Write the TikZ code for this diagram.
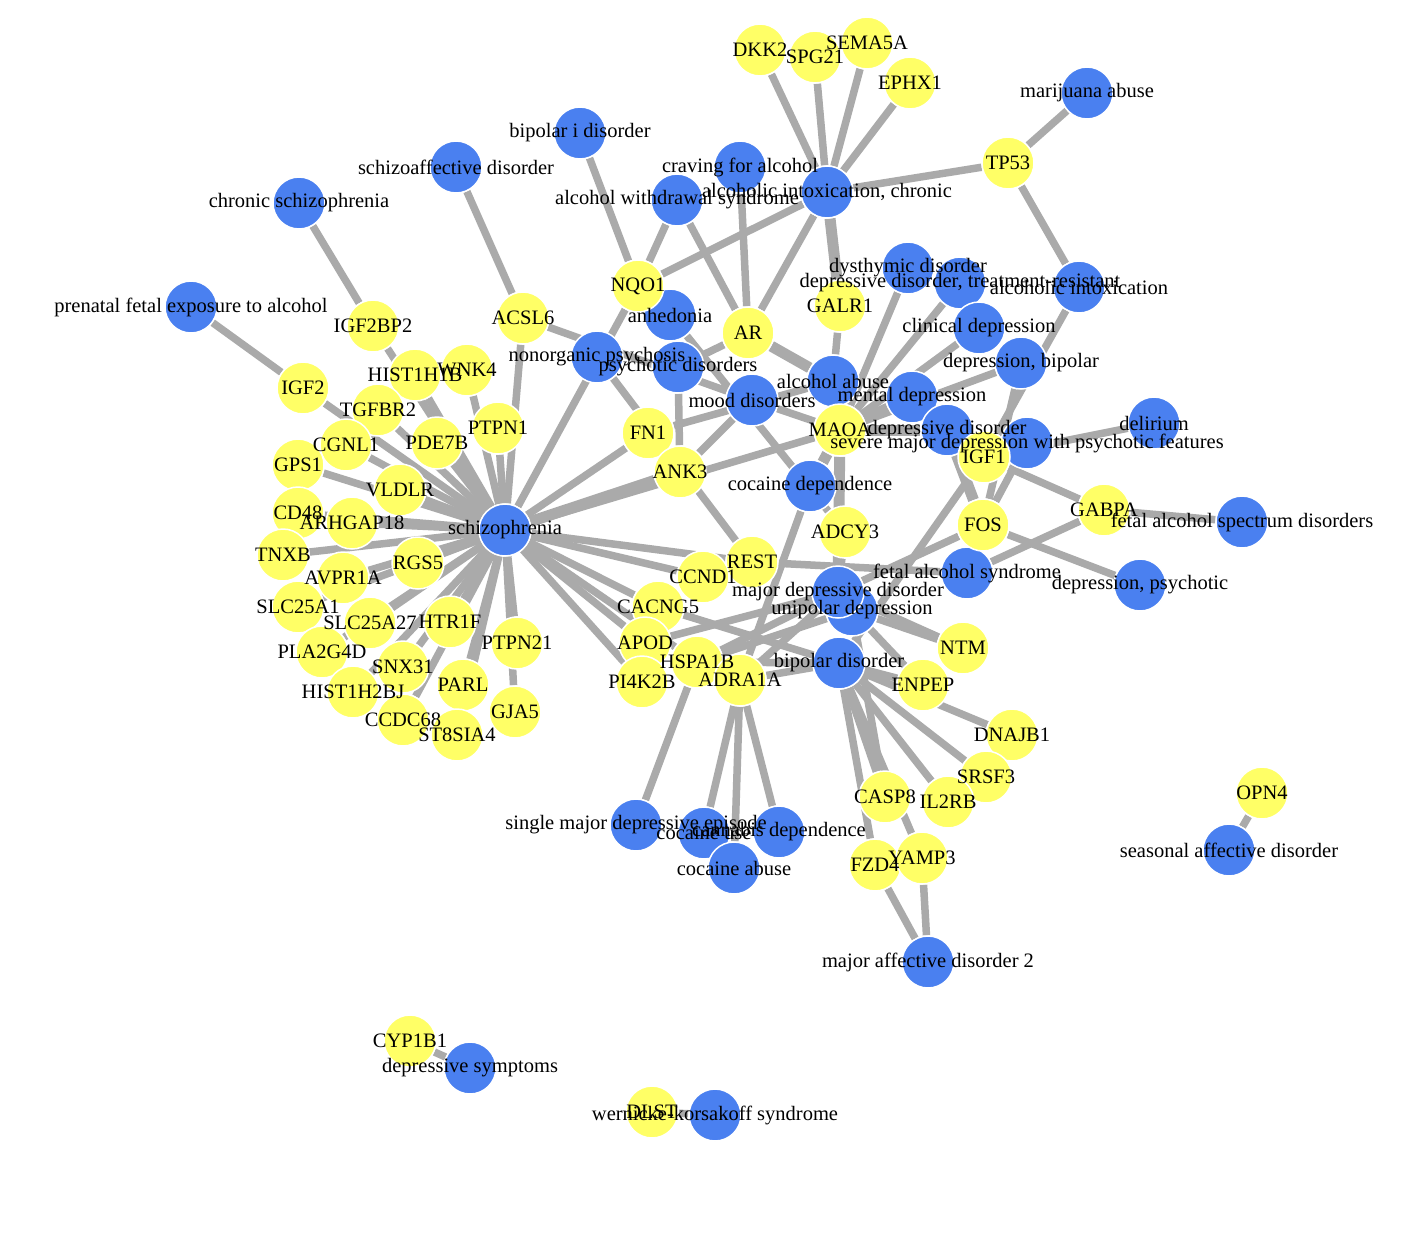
\documentclass[tikz,border=0pt]{standalone}
\usepackage{fontspec}
\setmainfont{Liberation Serif}
\pgfdeclarelayer{bgpaper}
\pgfdeclarelayer{edges}
\pgfsetlayers{bgpaper,edges,main}
\definecolor{dblue}{RGB}{74,128,240}
\definecolor{gyel}{RGB}{255,255,102}
\definecolor{egray}{RGB}{170,170,170}
\tikzset{
 dis/.style={circle, fill=dblue, draw=white, line width=1.5pt, minimum size=52pt, inner sep=0pt},
 gen/.style={dis, fill=gyel},
 lab/.style={font=\fontsize{20.5}{24}\selectfont, inner sep=0pt, text=black},
 edge/.style={draw=egray, line width=7.5pt},
 thk/.style={draw=egray, line width=11pt},
}
\newcommand\BN[3]{\node[dis] (#1) at (#2,#3) {};}
\newcommand\YN[3]{\node[gen] (#1) at (#2,#3) {};}
\newcommand\LB[2]{\node[lab] (t#1) at (#1) {#2};}
\begin{document}
\begin{tikzpicture}[x=1pt,y=-1pt]
\begin{pgfonlayer}{bgpaper}
\path[fill=white,use as bounding box] (0,0) rectangle (1416,1232);
\end{pgfonlayer}
% diseases
\BN{schiz}{505}{530}
\BN{chrsch}{299}{203}
\BN{prenat}{191}{307}
\BN{schaff}{456}{167}
\BN{bipi}{580}{133}
\BN{crav}{740}{167}
\BN{aws}{677}{200}
\BN{aic}{827}{192}
\BN{mari}{1087}{93}
\BN{anhed}{670}{315}
\BN{nonorg}{597}{357}
\BN{psyd}{678}{367}
\BN{mood}{752}{400}
\BN{alcab}{833}{381}
\BN{dysth}{908}{268}
\BN{ddtr}{960}{283}
\BN{alcint}{1079}{287}
\BN{clin}{979}{328}
\BN{depbip}{1021}{363}
\BN{mentd}{912}{397}
\BN{depd}{947}{430}
\BN{smd}{1027}{443}
\BN{delir}{1154}{423}
\BN{cocdep}{810}{486}
\BN{fas}{967}{573}
\BN{fasd}{1242}{522}
\BN{deppsy}{1140}{585}
\BN{unip}{852}{610}
\BN{mdd}{838}{592}
\BN{bip}{839}{663}
\BN{smde}{636}{825}
\BN{cann}{779}{832}
\BN{cocuse}{704}{833}
\BN{cocab}{734}{868}
\BN{mad}{928}{962}
\BN{sad}{1229}{850}
\BN{depsym}{470}{1068}
\BN{wks}{715}{1115}
% genes
\YN{DKK}{760}{50}
\YN{SPG}{815}{57}
\YN{SEMA}{867}{43}
\YN{EPHX}{910}{83}
\YN{TP}{1008}{163}
\YN{NQO}{638}{286}
\YN{AR}{748}{333}
\YN{GALR}{840}{306}
\YN{ACSL}{523}{318}
\YN{IGFBP}{373}{326}
\YN{HISTa}{415}{375}
\YN{WNK}{467}{370}
\YN{IGFtwo}{303}{388}
\YN{TGFBR}{378}{410}
\YN{PTPNa}{498}{428}
\YN{PDE}{437}{443}
\YN{CGNL}{346}{445}
\YN{GPS}{298}{465}
\YN{VLDLR}{400}{490}
\YN{CD}{298}{513}
\YN{ARHGAP}{352}{523}
\YN{TNXB}{283}{555}
\YN{RGS}{418}{563}
\YN{AVPR}{343}{578}
\YN{SLCa}{298}{607}
\YN{SLCb}{370}{623}
\YN{HTR}{450}{622}
\YN{PLA}{322}{652}
\YN{SNX}{403}{667}
\YN{PTPNb}{517}{643}
\YN{PARL}{463}{685}
\YN{HISTb}{353}{692}
\YN{CCDC}{403}{720}
\YN{GJA}{515}{712}
\YN{STS}{457}{735}
\YN{FN}{648}{433}
\YN{ANK}{680}{472}
\YN{MAOA}{840}{430}
\YN{IGFone}{984}{457}
\YN{FOS}{983}{525}
\YN{GABPA}{1104}{510}
\YN{ADCY}{845}{532}
\YN{REST}{752}{562}
\YN{CCND}{703}{577}
\YN{CACNG}{658}{607}
\YN{APOD}{645}{643}
\YN{PIK}{642}{682}
\YN{HSPA}{697}{662}
\YN{ADRA}{740}{680}
\YN{NTM}{963}{648}
\YN{ENPEP}{923}{685}
\YN{DNAJ}{1012}{735}
\YN{SRSF}{986}{777}
\YN{ILRB}{948}{802}
\YN{CASP}{885}{797}
\YN{FZD}{875}{865}
\YN{YAMP}{922}{858}
\YN{OPN}{1262}{793}
\YN{CYP}{410}{1041}
\YN{DLST}{652}{1112}
% edges
\begin{pgfonlayer}{edges}
\foreach \g in {DKK,SPG,SEMA,EPHX,TP,NQO,AR} \draw[edge] (aic) -- (\g);
\draw[thk] (aic) -- (GALR);
\draw[edge] (TP) -- (mari);
\draw[edge] (TP) -- (alcint);
\draw[edge] (bipi) -- (NQO);
\draw[edge] (aws) -- (NQO);
\draw[edge] (aws) -- (AR);
\draw[edge] (crav) -- (AR);
\draw[thk] (AR) -- (alcab);
\draw[edge] (AR) -- (psyd);
\draw[edge] (GALR) -- (alcab);
\draw[edge] (NQO) -- (schiz);
\draw[edge] (schaff) -- (ACSL);
\draw[edge] (ACSL) -- (schiz);
\draw[edge] (ACSL) -- (mood);
\draw[edge] (chrsch) -- (IGFBP);
\draw[edge] (IGFBP) -- (schiz);
\draw[edge] (prenat) -- (IGFtwo);
\foreach \g in {IGFtwo,HISTa,WNK,TGFBR,PTPNa,PDE,CGNL,GPS,VLDLR,CD,ARHGAP,TNXB,RGS,AVPR,SLCa,SLCb,HTR,PLA,SNX,PTPNb,PARL,HISTb,CCDC,GJA,STS,FN,MAOA,REST,CCND,CACNG,APOD,PIK,HSPA}
  \draw[edge] (schiz) -- (\g);
\draw[thk] (schiz) -- (ANK);
\draw[edge] (nonorg) -- (REST);
\draw[edge] (FN) -- (alcab);
\draw[edge] (ANK) -- (psyd);
\draw[edge] (ANK) -- (mood);
\draw[edge] (anhed) -- (ADCY);
\draw[edge] (MAOA) -- (mood);
\draw[edge] (MAOA) -- (alcab);
\draw[thk] (MAOA) -- (mentd);
\draw[thk] (MAOA) -- (depd);
\foreach \d in {dysth,ddtr,clin,depbip} \draw[edge] (MAOA) -- (\d);
\draw[thk] (MAOA) -- (cocdep);
\draw[thk] (MAOA) -- (mdd);
\draw[edge] (ADCY) -- (mdd);
\draw[edge] (IGFone) -- (alcint);
\draw[edge] (IGFone) -- (delir);
\draw[edge] (IGFone) -- (GABPA);
\draw[edge] (IGFone) -- (bip);
\draw[edge] (depbip) -- (FOS);
\draw[thk] (depd) -- (FOS);
\draw[edge] (smd) -- (FOS);
\draw[edge] (FOS) -- (deppsy);
\draw[edge] (FOS) -- (mdd);
\draw[edge] (GABPA) -- (fasd);
\draw[edge] (GABPA) -- (fas);
\draw[edge] (REST) -- (fas);
\draw[edge] (cocdep) -- (ADRA);
\draw[edge] (HSPA) -- (mdd);
\draw[edge] (HSPA) -- (unip);
\draw[edge] (HSPA) -- (bip);
\draw[edge] (HSPA) -- (smde);
\draw[edge] (APOD) -- (mdd);
\draw[edge] (CACNG) -- (bip);
\draw[edge] (ADRA) -- (mdd);
\draw[edge] (ADRA) -- (bip);
\draw[edge] (ADRA) -- (cocuse);
\draw[edge] (ADRA) -- (cocab);
\draw[edge] (ADRA) -- (cann);
\draw[edge] (mdd) -- (NTM);
\draw[edge] (unip) -- (NTM);
\draw[edge] (unip) -- (ENPEP);
\draw[edge] (bip) -- (ENPEP);
\foreach \g in {DNAJ,SRSF,ILRB,CASP,FZD,YAMP} \draw[edge] (bip) -- (\g);
\draw[edge] (unip) -- (CASP);
\draw[edge] (FZD) -- (mad);
\draw[edge] (YAMP) -- (mad);
\draw[edge] (OPN) -- (sad);
\draw[edge] (CYP) -- (depsym);
\draw[edge] (DLST) -- (wks);
\end{pgfonlayer}
% labels
\LB{schiz}{schizophrenia}
\LB{chrsch}{chronic schizophrenia}
\LB{prenat}{prenatal fetal exposure to alcohol}
\LB{schaff}{schizoaffective disorder}
\LB{bipi}{bipolar i disorder}
\LB{crav}{craving for alcohol}
\LB{aws}{alcohol withdrawal syndrome}
\LB{aic}{alcoholic intoxication, chronic}
\LB{mari}{marijuana abuse}
\LB{anhed}{anhedonia}
\LB{nonorg}{nonorganic psychosis}
\LB{psyd}{psychotic disorders}
\LB{mood}{mood disorders}
\LB{alcab}{alcohol abuse}
\LB{dysth}{dysthymic disorder}
\LB{ddtr}{depressive disorder, treatment-resistant}
\LB{alcint}{alcoholic intoxication}
\LB{clin}{clinical depression}
\LB{depbip}{depression, bipolar}
\LB{mentd}{mental depression}
\LB{depd}{depressive disorder}
\LB{smd}{severe major depression with psychotic features}
\LB{delir}{delirium}
\LB{cocdep}{cocaine dependence}
\LB{fas}{fetal alcohol syndrome}
\LB{fasd}{fetal alcohol spectrum disorders}
\LB{deppsy}{depression, psychotic}
\LB{mdd}{major depressive disorder}
\LB{unip}{unipolar depression}
\LB{bip}{bipolar disorder}
\LB{smde}{single major depressive episode}
\LB{cann}{cannabis dependence}
\LB{cocuse}{cocaine use}
\LB{cocab}{cocaine abuse}
\LB{mad}{major affective disorder 2}
\LB{sad}{seasonal affective disorder}
\LB{depsym}{depressive symptoms}
\LB{wks}{wernicke-korsakoff syndrome}
\LB{DKK}{DKK2}
\LB{SPG}{SPG21}
\LB{SEMA}{SEMA5A}
\LB{EPHX}{EPHX1}
\LB{TP}{TP53}
\LB{NQO}{NQO1}
\LB{AR}{AR}
\LB{GALR}{GALR1}
\LB{ACSL}{ACSL6}
\LB{IGFBP}{IGF2BP2}
\LB{HISTa}{HIST1H1B}
\LB{WNK}{WNK4}
\LB{IGFtwo}{IGF2}
\LB{TGFBR}{TGFBR2}
\LB{PTPNa}{PTPN1}
\LB{PDE}{PDE7B}
\LB{CGNL}{CGNL1}
\LB{GPS}{GPS1}
\LB{VLDLR}{VLDLR}
\LB{CD}{CD48}
\LB{ARHGAP}{ARHGAP18}
\LB{TNXB}{TNXB}
\LB{RGS}{RGS5}
\LB{AVPR}{AVPR1A}
\LB{SLCa}{SLC25A1}
\LB{SLCb}{SLC25A27}
\LB{HTR}{HTR1F}
\LB{PLA}{PLA2G4D}
\LB{SNX}{SNX31}
\LB{PTPNb}{PTPN21}
\LB{PARL}{PARL}
\LB{HISTb}{HIST1H2BJ}
\LB{CCDC}{CCDC68}
\LB{GJA}{GJA5}
\LB{STS}{ST8SIA4}
\LB{FN}{FN1}
\LB{ANK}{ANK3}
\LB{MAOA}{MAOA}
\LB{IGFone}{IGF1}
\LB{FOS}{FOS}
\LB{GABPA}{GABPA}
\LB{ADCY}{ADCY3}
\LB{REST}{REST}
\LB{CCND}{CCND1}
\LB{CACNG}{CACNG5}
\LB{APOD}{APOD}
\LB{PIK}{PI4K2B}
\LB{HSPA}{HSPA1B}
\LB{ADRA}{ADRA1A}
\LB{NTM}{NTM}
\LB{ENPEP}{ENPEP}
\LB{DNAJ}{DNAJB1}
\LB{SRSF}{SRSF3}
\LB{ILRB}{IL2RB}
\LB{CASP}{CASP8}
\LB{FZD}{FZD4}
\LB{YAMP}{YAMP3}
\LB{OPN}{OPN4}
\LB{CYP}{CYP1B1}
\LB{DLST}{DLST}
\end{tikzpicture}
\end{document}
